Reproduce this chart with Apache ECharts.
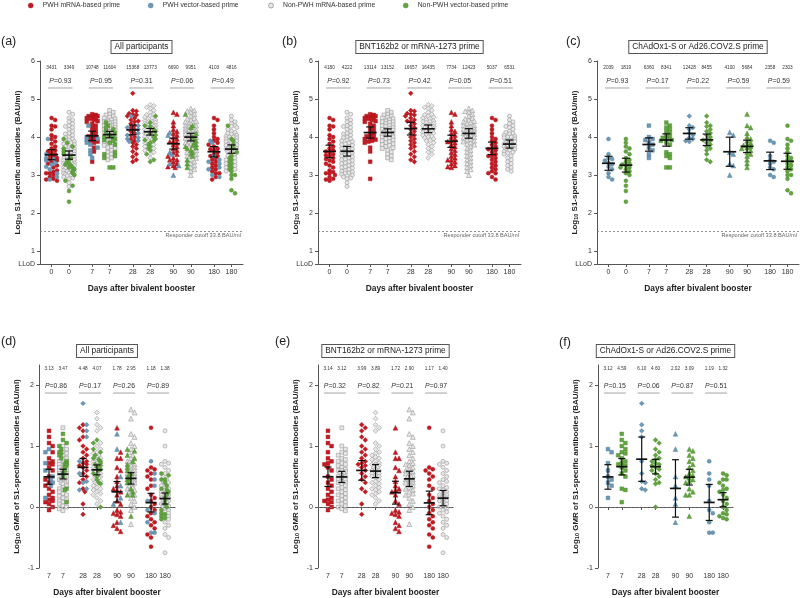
<!DOCTYPE html>
<html><head><meta charset="utf-8">
<script src="https://cdn.jsdelivr.net/npm/echarts@6/dist/echarts.min.js"></script>
<style>html,body{margin:0;padding:0;background:#fff}#c{width:800px;height:598px}</style>
</head><body><div id="c"></div>
<script>
const FONT = '"Liberation Sans",Arial,sans-serif';

// ---------- DATA ----------
const groupNames = ['PWH mRNA-based prime','PWH vector-based prime','Non-PWH mRNA-based prime','Non-PWH vector-based prime'];
const abDays = ['0','7','28','90','180'];
const gmrDays = ['7','28','90','180'];

// log10 S1-specific antibodies, per day (0,7,28,90,180)
const abPwhMrna = [
 [4.5,4.45,4.3,4.28,4.2,4.05,4.0,3.95,3.88,3.82,3.75,3.7,3.65,3.62,3.6,3.55,3.52,3.5,3.45,3.42,3.38,3.35,3.3,3.25,3.2,3.12,3.08,3.05,3.05,3.0,2.95,2.9,2.88,2.85],
 [4.6,4.58,4.55,4.55,4.52,4.5,4.5,4.48,4.45,4.42,4.4,4.35,4.3,4.25,4.2,4.15,4.1,4.05,4.02,4.0,3.98,3.95,3.93,3.9,3.88,3.85,3.72,3.62,3.35,2.9],
 [5.15,4.7,4.68,4.62,4.6,4.58,4.55,4.5,4.45,4.42,4.4,4.35,4.3,4.25,4.2,4.15,4.1,4.05,4.0,3.95,3.9,3.85,3.8,3.75,3.7,3.62,3.55,3.48,3.4,3.35],
 [4.65,4.6,4.4,4.3,4.2,4.15,4.1,4.05,4.0,3.95,3.9,3.88,3.85,3.8,3.75,3.7,3.65,3.6,3.55,3.5,3.45,3.4,3.4,3.35,3.3,3.25,3.22,3.2],
 [4.5,4.45,4.3,4.2,4.1,4.0,3.95,3.9,3.85,3.8,3.75,3.7,3.68,3.65,3.6,3.55,3.5,3.5,3.45,3.4,3.35,3.3,3.25,3.2,3.15,3.1,3.05,3.05,2.95,2.88]
];
const abPwhVector = [
 [3.95,3.55,3.45,3.42,3.38,3.32,3.28,3.22,3.15,3.05,2.95,2.88],
 [4.3,4.0,3.95,3.92,3.85,3.8,3.72,3.65,3.55,3.45],
 [4.55,4.3,4.25,4.2,4.1,4.05,3.98,3.95,3.9,3.88],
 [4.12,4.05,3.6,3.55,3.3,3.25,3.0],
 [3.9,3.85,3.5,3.4,3.35,3.3,3.2,3.15,3.0,2.95]
];
const abNonMrna = [
 [4.65,4.6,4.5,4.45,4.4,4.35,4.3,4.28,4.25,4.2,4.15,4.1,4.08,4.05,4.0,3.98,3.95,3.92,3.9,3.88,3.85,3.82,3.8,3.78,3.75,3.72,3.7,3.68,3.65,3.62,3.6,3.58,3.55,3.52,3.5,3.48,3.45,3.42,3.4,3.38,3.35,3.32,3.3,3.28,3.25,3.22,3.2,3.18,3.15,3.12,3.1,3.08,3.05,3.05,3.02,3.0,2.98,2.95,2.92,2.9,2.8,2.7],
 [4.7,4.65,4.6,4.58,4.55,4.52,4.5,4.48,4.45,4.42,4.4,4.4,4.38,4.35,4.32,4.3,4.3,4.28,4.25,4.22,4.2,4.2,4.18,4.15,4.12,4.1,4.1,4.08,4.05,4.02,4.0,4.0,3.98,3.95,3.92,3.9,3.88,3.85,3.82,3.8,3.78,3.75,3.72,3.7,3.65,3.6,3.55,3.5,3.45,3.4],
 [4.85,4.82,4.78,4.75,4.7,4.65,4.6,4.58,4.55,4.52,4.5,4.48,4.45,4.42,4.4,4.4,4.38,4.35,4.32,4.3,4.3,4.28,4.25,4.25,4.22,4.2,4.2,4.18,4.15,4.12,4.1,4.1,4.08,4.05,4.02,4.0,3.98,3.95,3.92,3.9,3.85,3.8,3.75,3.7,3.65,3.6,3.55,3.45],
 [4.75,4.7,4.68,4.65,4.6,4.55,4.5,4.48,4.45,4.42,4.4,4.38,4.35,4.3,4.3,4.28,4.25,4.22,4.2,4.2,4.18,4.15,4.12,4.1,4.1,4.08,4.05,4.02,4.0,4.0,3.98,3.95,3.92,3.9,3.88,3.85,3.82,3.8,3.75,3.7,3.65,3.6,3.55,3.5,3.45,3.4,3.35,3.3,3.25,3.2,3.15,3.1,3.0],
 [4.55,4.45,4.4,4.35,4.3,4.28,4.25,4.2,4.15,4.12,4.1,4.08,4.05,4.02,4.0,4.0,3.98,3.95,3.92,3.9,3.9,3.88,3.85,3.82,3.8,3.8,3.78,3.75,3.72,3.7,3.7,3.68,3.65,3.62,3.6,3.58,3.55,3.5,3.45,3.4,3.35,3.3,3.25,3.2,3.15,3.1]
];
const abNonVector = [
 [3.95,3.85,3.75,3.7,3.62,3.55,3.45,3.4,3.35,3.3,3.28,3.25,3.2,3.2,3.15,3.1,3.05,3.0,2.85,2.72,2.58,2.3],
 [4.38,4.3,4.25,4.2,4.15,4.1,4.05,4.0,3.98,3.95,3.92,3.9,3.85,3.8,3.6,3.55,3.5,3.45,3.2,3.2],
 [4.55,4.38,4.3,4.28,4.2,4.15,4.1,4.05,4.0,3.95,3.92,3.9,3.85,3.8,3.75,3.7,3.65,3.55,3.4,3.35],
 [4.6,4.3,4.25,4.1,4.0,3.95,3.9,3.85,3.8,3.78,3.75,3.72,3.7,3.65,3.6,3.55,3.5,3.4,3.3,3.2],
 [4.3,3.95,3.9,3.8,3.7,3.6,3.5,3.45,3.4,3.35,3.3,3.25,3.2,3.15,3.1,3.0,3.0,2.9,2.6,2.52]
];

// log10 GMR vs day 0, per day (7,28,90,180)
const gmrPwhMrna = [
 [1.25,1.15,1.05,1.0,0.9,0.8,0.75,0.72,0.7,0.65,0.6,0.5,0.45,0.4,0.35,0.3,0.25,0.2,0.15,0.12,0.1,0.08,0.05,0.0,-0.05],
 [1.35,1.3,1.25,1.15,1.1,1.0,0.95,0.9,0.85,0.8,0.75,0.72,0.7,0.68,0.65,0.6,0.55,0.5,0.45,0.4,0.3,0.25,0.05,-0.12],
 [1.3,0.9,0.8,0.8,0.65,0.6,0.5,0.42,0.35,0.3,0.28,0.25,0.2,0.1,0.05,-0.05,-0.08,-0.1,-0.12,-0.15,-0.25,-0.3,-0.35,-0.4],
 [1.3,0.65,0.62,0.6,0.55,0.5,0.45,0.35,0.3,0.2,0.15,0.1,0.05,0.0,-0.05,-0.1,-0.15,-0.2,-0.25,-0.3,-0.35,-0.45,-0.5,-0.65]
];
const gmrPwhVector = [
 [0.95,0.9,0.72,0.6,0.5,0.45,0.4,0.35,0.15],
 [1.7,1.35,1.25,1.15,0.75,0.55,0.42,0.4,0.3,0.28],
 [1.2,0.95,0.5,0.35,0.15,0.05,-0.25],
 [0.75,0.55,0.45,0.35,0.1,-0.05,-0.1,-0.25,-0.42,-0.42]
];
const gmrNonMrna = [
 [1.3,1.0,0.95,0.9,0.88,0.85,0.8,0.78,0.75,0.72,0.7,0.68,0.65,0.62,0.6,0.6,0.58,0.55,0.55,0.52,0.5,0.5,0.48,0.45,0.45,0.42,0.4,0.4,0.38,0.35,0.32,0.3,0.28,0.25,0.22,0.2,0.18,0.15,0.12,0.1,0.08,0.05,0.02,0.0,-0.03,-0.06],
 [1.55,1.45,1.35,1.3,1.25,1.05,1.0,0.95,0.9,0.88,0.85,0.82,0.8,0.78,0.75,0.72,0.7,0.7,0.68,0.65,0.65,0.62,0.6,0.6,0.58,0.55,0.55,0.52,0.5,0.5,0.48,0.45,0.42,0.4,0.38,0.35,0.32,0.3,0.28,0.25,0.22,0.2,0.15,0.1,0.05],
 [1.6,1.55,1.45,1.2,1.15,1.05,1.0,0.95,0.9,0.85,0.8,0.75,0.72,0.7,0.68,0.65,0.62,0.6,0.58,0.55,0.55,0.52,0.5,0.5,0.48,0.45,0.45,0.42,0.4,0.4,0.38,0.35,0.32,0.3,0.28,0.25,0.22,0.2,0.15,0.1,0.05,0.0,-0.05,-0.28],
 [1.25,1.0,0.75,0.72,0.7,0.65,0.6,0.55,0.5,0.45,0.42,0.4,0.35,0.32,0.3,0.28,0.25,0.22,0.2,0.2,0.18,0.15,0.15,0.12,0.1,0.1,0.08,0.05,0.02,0.0,-0.02,-0.05,-0.08,-0.1,-0.15,-0.2,-0.25,-0.3,-0.35,-0.45,-0.5,-0.75]
];
const gmrNonVector = [
 [1.2,1.1,1.05,1.0,0.95,0.9,0.88,0.85,0.8,0.75,0.72,0.7,0.68,0.65,0.6,0.55,0.5,0.3,0.28,0.08],
 [1.1,1.05,0.95,0.9,0.85,0.8,0.78,0.75,0.72,0.7,0.68,0.65,0.62,0.6,0.55,0.5,0.45,0.4,0.38,0.0],
 [0.95,0.92,0.85,0.8,0.75,0.7,0.65,0.6,0.55,0.52,0.5,0.48,0.45,0.42,0.4,0.3,0.25,0.2,0.2,-0.15],
 [0.55,0.52,0.45,0.45,0.4,0.35,0.3,0.28,0.25,0.2,0.15,0.1,0.05,0.0,-0.05,-0.1,-0.12,-0.15,-0.18,-0.2]
];

// Geometric mean labels and P values
const gmtA = [['3431','3349'],['10748','11604'],['15368','13773'],['6690','9951'],['4103','4816']];
const gmtB = [['4180','4222'],['13114','13152'],['16657','16435'],['7734','12423'],['5037','6531']];
const gmtC = [['2039','1819'],['6360','8341'],['12428','8455'],['4100','5684'],['2358','2303']];
const pA = ['0.93','0.95','0.31','0.06','0.49'];
const pB = ['0.92','0.73','0.42','0.05','0.51'];
const pC = ['0.93','0.17','0.22','0.59','0.59'];
const gmrD = [['3.13','3.47'],['4.48','4.07'],['1.78','2.95'],['1.18','1.38']];
const gmrE = [['3.14','3.12'],['3.99','3.89'],['1.72','2.90'],['1.17','1.40']];
const gmrF = [['3.12','4.59'],['6.10','4.60'],['2.02','3.09'],['1.19','1.32']];
const pD = ['0.86','0.17','0.26','0.89'];
const pE = ['0.32','0.82','0.21','0.97'];
const pF = ['0.15','0.06','0.87','0.51'];

// ---------- STYLE / LAYOUT ----------
const colorKeys = ['red','blue','gray','green'];
const styles = {
  red:{color:'#c61a22', borderColor:'#9e1218', borderWidth:0.4},
  blue:{color:'#6d98b6', borderColor:'#4f7c9a', borderWidth:0.4},
  gray:{color:'#e8e8e8', borderColor:'#a3a3a3', borderWidth:0.7},
  green:{color:'#62a540', borderColor:'#4a872c', borderWidth:0.4}
};
const symSize = {circle:4.0, rect:3.8, diamond:4.8, triangle:4.8};

const rows = [
 {days:abDays, data:{red:abPwhMrna, blue:abPwhVector, gray:abNonMrna, green:abNonVector},
  min:0.66, max:6, xmax:10, off:0.43, symbols:['circle','rect','diamond','triangle','circle'],
  yTicks:[0.66,1,2,3,4,5,6], yNum:5.82, yP:5.47, yL:5.29, pHalf:0.6,
  yName:'Log{s|10} S1-specific antibodies (BAU/ml)', ref:1.529, refLabel:'Responder cutoff 33.8 BAU/ml',
  maxOff:6, meanHW:6.5, capHW:4},
 {days:gmrDays, data:{red:gmrPwhMrna, blue:gmrPwhVector, gray:gmrNonMrna, green:gmrNonVector},
  min:-1, max:2.33, xmax:8, off:0.41, symbols:['rect','diamond','triangle','circle'],
  yTicks:[-1,0,1,2], yNum:2.265, yP:1.985, yL:1.87, pHalf:0.65,
  yName:'Log{s|10} GMR of S1-specific antibodies (BAU/ml)', ref:0, refLabel:null,
  maxOff:5.2, meanHW:5.5, capHW:3.5}
];

const panels = [
 {tag:'(a)', row:0, grid:{left:40,top:61,width:203,height:203}, L:['red','blue'], R:['gray','green'], gm:gmtA, p:pA, title:'All participants', lx:1, ly:42, ty:47},
 {tag:'(b)', row:0, grid:{left:318,top:61,width:203,height:203}, L:['red'], R:['gray'], gm:gmtB, p:pB, title:'BNT162b2 or mRNA-1273 prime', lx:282, ly:42, ty:47},
 {tag:'(c)', row:0, grid:{left:597,top:61,width:202,height:203}, L:['blue'], R:['green'], gm:gmtC, p:pC, title:'ChAdOx1-S or Ad26.COV2.S prime', lx:566, ly:42, ty:47},
 {tag:'(d)', row:1, grid:{left:39,top:365,width:136,height:203}, L:['red','blue'], R:['gray','green'], gm:gmrD, p:pD, title:'All participants', lx:1, ly:342, ty:351},
 {tag:'(e)', row:1, grid:{left:318,top:365,width:135,height:203}, L:['red'], R:['gray'], gm:gmrE, p:pE, title:'BNT162b2 or mRNA-1273 prime', lx:275, ly:342, ty:351},
 {tag:'(f)', row:1, grid:{left:598,top:365,width:135,height:203}, L:['blue'], R:['green'], gm:gmrF, p:pF, title:'ChAdOx1-S or Ad26.COV2.S prime', lx:559, ly:343, ty:351}
];

// beeswarm: horizontal pixel offsets so markers do not overlap
function swarm(ys, ky, maxOff, d){
  const idx = ys.map((_,i)=>i).sort((a,b)=>ys[b]-ys[a]);
  const step = d*0.5, cands=[0];
  for(let k=1;k*step<=maxOff;k++){cands.push(k*step,-k*step);}
  const placed=[], off=new Array(ys.length);
  for(const i of idx){
    const py=ys[i]*ky; let best=0, bestScore=-1;
    for(const c of cands){
      let minD=Infinity;
      for(const p of placed){const dy=p.y-py; if(Math.abs(dy)>=d) continue; const dd=Math.hypot(p.x-c,dy); if(dd<minD) minD=dd;}
      if(minD>=d){best=c; bestScore=Infinity; break;}
      if(minD>bestScore){bestScore=minD; best=c;}
    }
    off[i]=best; placed.push({x:best,y:py});
  }
  return off;
}
function tcrit(df){return 1.96+2.4/df+3/(df*df);}

const grids=[], xAxes=[], yAxes=[], series=[], graphics=[];
panels.forEach((P,pi)=>{
  const R=rows[P.row];
  grids.push(P.grid);
  const kx=P.grid.width/R.xmax, ky=P.grid.height/(R.max-R.min);
  const xt=[]; R.days.forEach((d,di)=>{xt.push(2*di+1-R.off, 2*di+1+R.off);});
  xAxes.push({type:'value', gridIndex:pi, min:0, max:R.xmax,
    axisLine:{lineStyle:{color:'#555',width:1}},
    axisTick:{show:true, customValues:xt, length:3, lineStyle:{color:'#555'}},
    axisLabel:{customValues:xt, margin:5, fontSize:7, fontFamily:FONT, color:'#333',
      formatter:(v)=>{let bi=0,bd=1e9; xt.forEach((t,i)=>{if(Math.abs(t-v)<bd){bd=Math.abs(t-v);bi=i;}}); return R.days[Math.floor(bi/2)];}},
    splitLine:{show:false},
    name:'Days after bivalent booster', nameLocation:'middle', nameGap:21, nameMoveOverlap:false,
    nameTextStyle:{fontFamily:FONT, fontSize:8.4, fontWeight:'bold', color:'#222'}});
  yAxes.push({type:'value', gridIndex:pi, min:R.min, max:R.max,
    axisLine:{show:true, lineStyle:{color:'#555',width:1}},
    axisTick:{show:true, customValues:R.yTicks, length:3, lineStyle:{color:'#555'}},
    axisLabel:{customValues:R.yTicks, margin:5, fontSize:7, fontFamily:FONT, color:'#333',
      formatter:(v)=> (P.row===0 && v<0.9) ? 'LLoD' : String(v)},
    splitLine:{show:false},
    name:R.yName, nameLocation:'middle', nameGap:18, nameMoveOverlap:false,
    nameTextStyle:{fontFamily:FONT, fontSize:8, fontWeight:'bold', color:'#222',
      rich:{s:{fontFamily:FONT, fontSize:5.5, fontWeight:'bold', color:'#222', verticalAlign:'bottom', lineHeight:9}}}});

  const sData={red:[],blue:[],gray:[],green:[]};
  const means=[];
  R.days.forEach((d,di)=>{
    [P.L,P.R].forEach((cols,side)=>{
      const pts=[]; cols.forEach(c=>R.data[c][di].forEach(y=>pts.push({c,y})));
      const xc=2*di+1+(side?R.off:-R.off);
      const offs=swarm(pts.map(p=>p.y), ky, R.maxOff, 3.6);
      const sym=R.symbols[di];
      pts.forEach((p,i)=>sData[p.c].push({value:[xc+offs[i]/kx, p.y], symbol:sym, symbolSize:symSize[sym]}));
      const ys=pts.map(p=>p.y), n=ys.length, mu=ys.reduce((a,b)=>a+b,0)/n;
      const sd=Math.sqrt(ys.reduce((a,b)=>a+(b-mu)*(b-mu),0)/(n-1));
      const m=Math.log10(parseFloat(P.gm[di][side]));
      const h=tcrit(n-1)*sd/Math.sqrt(n);
      means.push([xc,m,m-h,m+h]);
    });
  });
  colorKeys.forEach((c,ci)=>{
    if(!sData[c].length) return;
    series.push({type:'scatter', name:groupNames[ci], xAxisIndex:pi, yAxisIndex:pi, symbol:'circle',
      itemStyle:Object.assign({opacity:1},styles[c]), data:sData[c], z:2, silent:true, animation:false});
  });
  series.push({type:'custom', xAxisIndex:pi, yAxisIndex:pi, z:5, data:means, silent:true, animation:false,
    renderItem:(params,api)=>{
      const x=api.value(0), pm=api.coord([x,api.value(1)]), pl=api.coord([x,api.value(2)]), ph=api.coord([x,api.value(3)]);
      const hw=R.meanHW, cw=R.capHW, st={stroke:'#111',lineWidth:1.2};
      return {type:'group', children:[
        {type:'line', shape:{x1:pm[0]-hw,y1:pm[1],x2:pm[0]+hw,y2:pm[1]}, style:{stroke:'#111',lineWidth:1.7}},
        {type:'line', shape:{x1:pl[0],y1:pl[1],x2:ph[0],y2:ph[1]}, style:st},
        {type:'line', shape:{x1:pl[0]-cw,y1:pl[1],x2:pl[0]+cw,y2:pl[1]}, style:st},
        {type:'line', shape:{x1:ph[0]-cw,y1:ph[1],x2:ph[0]+cw,y2:ph[1]}, style:st}
      ]};
    }});
  const ann=R.days.map((d,di)=>[2*di+1]);
  const ml={silent:true, symbol:['none','none'], animation:false,
    lineStyle:{type:[2,2], color:'#777', width:0.8},
    data:[{yAxis:R.ref}],
    label: R.refLabel ? {show:true, position:'insideEndBottom', formatter:R.refLabel, fontSize:5.6, fontFamily:FONT, color:'#666', distance:2} : {show:false}};
  series.push({type:'custom', xAxisIndex:pi, yAxisIndex:pi, z:4, data:ann, silent:true, animation:false, markLine:ml,
    renderItem:(params,api)=>{
      const xc=api.value(0), di=params.dataIndex;
      const a1=api.coord([xc-R.off,R.yNum]), a2=api.coord([xc+R.off,R.yNum]);
      const pp=api.coord([xc,R.yP]), l1=api.coord([xc-R.pHalf,R.yL]), l2=api.coord([xc+R.pHalf,R.yL]);
      const numStyle=(t,pt)=>({type:'text', style:{text:t, x:pt[0], y:pt[1], align:'center', verticalAlign:'middle', fontSize:4.7, fontFamily:FONT, fill:'#333'}});
      return {type:'group', children:[
        numStyle(P.gm[di][0],a1), numStyle(P.gm[di][1],a2),
        {type:'text', style:{text:'{i|P}=' + P.p[di], x:pp[0], y:pp[1], align:'center', verticalAlign:'middle', fontSize:6.9, fontFamily:FONT, fill:'#333',
          rich:{i:{fontStyle:'italic', fontSize:6.9, fontFamily:FONT, fill:'#333'}}}},
        {type:'line', shape:{x1:l1[0],y1:l1[1],x2:l2[0],y2:l2[1]}, style:{stroke:'#999',lineWidth:0.9}}
      ]};
    }});
  graphics.push({type:'text', x:P.grid.left+P.grid.width/2, y:P.ty, style:{text:P.title, align:'center', verticalAlign:'middle',
    fontSize:8.3, fontFamily:FONT, fill:'#222', borderColor:'#555', borderWidth:1, padding:[2,3,2,3], backgroundColor:'#fff'}});
  graphics.push({type:'text', x:P.lx, y:P.ly, style:{text:P.tag, align:'left', verticalAlign:'middle',
    fontSize:12.5, fontFamily:FONT, fill:'#222'}});
});

const legendLefts=[28,148,268,403];
const legends=groupNames.map((g,i)=>({
  data:[{name:g, icon:'circle', itemStyle:Object.assign({},styles[colorKeys[i]], colorKeys[i]==='gray'?{borderWidth:1}:{})}],
  left:legendLefts[i], top:2, padding:0, itemWidth:14, itemHeight:5, symbolKeepAspect:true, selectedMode:false,
  textStyle:{fontSize:6.8, fontFamily:FONT, color:'#333'}
}));

const chart=echarts.init(document.getElementById('c'),null,{renderer:'canvas'});
chart.setOption({animation:false, backgroundColor:'#fff', grid:grids, xAxis:xAxes, yAxis:yAxes, series:series, legend:legends, graphic:graphics});
</script></body></html>
